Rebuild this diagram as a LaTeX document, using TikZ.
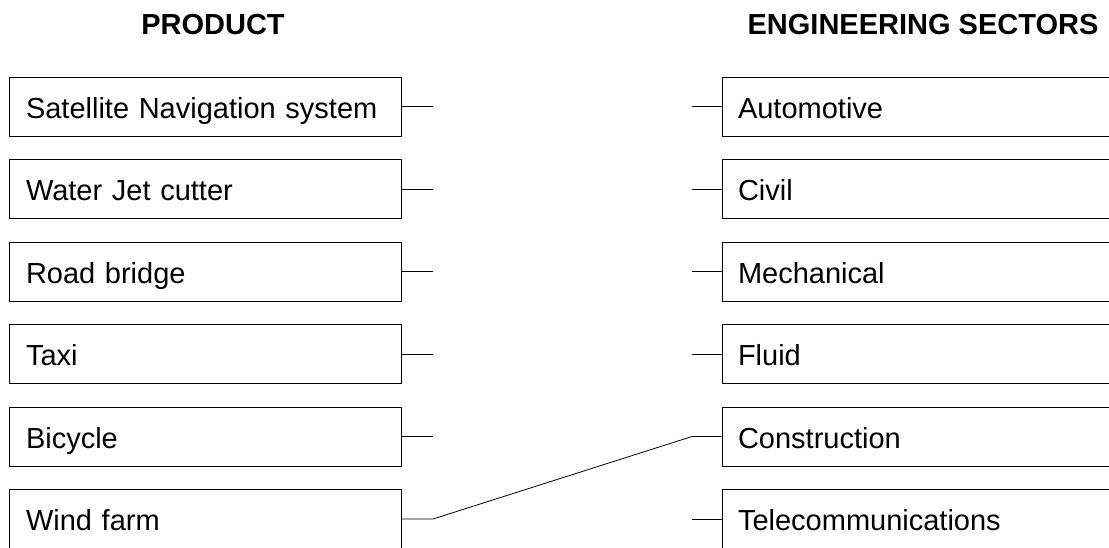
\documentclass[tikz,border=0pt]{standalone}
\usepackage{fontspec}
\setmainfont{Liberation Sans}
\begin{document}
\begin{tikzpicture}[x=1pt,y=-1pt,
  every node/.style={font=\fontsize{29}{34}\selectfont},
  head/.style={font=\fontsize{29}{34}\selectfont\bfseries},
  boxbase/.style={draw, line width=1pt, rectangle, inner ysep=0pt, text height=23pt, text depth=0pt, minimum height=59pt, align=left},
  prodbox/.style={boxbase, text width=358pt, inner xsep=17pt},
  secbox/.style={boxbase, text width=368pt, inner xsep=16pt},
  link/.style={line width=0.8pt}]
\useasboundingbox (0,0) rectangle (1109,547);
\clip (0,0) rectangle (1109,547);

% column headings
\node[head] (hp) at (213,25) {PRODUCT};
\node[head] (hs) at (923,25) {ENGINEERING SECTORS};

% products
\node[prodbox] (p1) at (205,106.5) {Satellite Navigation system};
\node[prodbox] (p2) at (205,189) {Water Jet cutter};
\node[prodbox] (p3) at (205,271.5) {Road bridge};
\node[prodbox] (p4) at (205,354) {Taxi};
\node[prodbox] (p5) at (205,436.5) {Bicycle};
\node[prodbox] (p6) at (205,519) {Wind farm};

% sectors
\node[secbox] (s1) at (922,106.5) {Automotive};
\node[secbox] (s2) at (922,189) {Civil};
\node[secbox] (s3) at (922,271.5) {Mechanical};
\node[secbox] (s4) at (922,354) {Fluid};
\node[secbox] (s5) at (922,436.5) {Construction};
\node[secbox] (s6) at (922,519) {Telecommunications};

% stub ends
\foreach \i/\y in {1/106.5,2/189,3/271.5,4/354,5/436.5,6/519} {
  \coordinate (pl\i) at (433,\y);
  \coordinate (sr\i) at (692,\y);
}

% stubs
\foreach \i in {1,...,5} { \draw[link] (p\i.east) -- (pl\i); }
\foreach \i in {1,2,3,4,6} { \draw[link] (sr\i) -- (s\i.west); }

% matched pair
\draw[link] (p6.east) -- (pl6) -- (sr5) -- (s5.west);
\end{tikzpicture}
\end{document}
